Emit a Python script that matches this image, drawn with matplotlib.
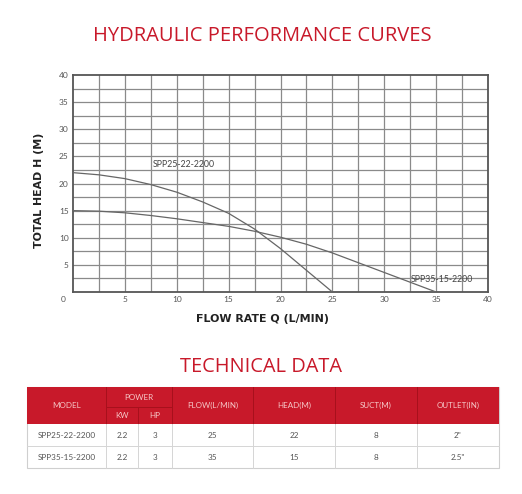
import matplotlib
matplotlib.use("Agg")
import matplotlib.pyplot as plt
from matplotlib.patches import Rectangle

# ---------------- data ----------------
q1 = [0, 2.5, 5, 7.5, 10, 12.5, 15, 17.5, 20, 22.5, 25]
h1 = [22.0, 21.6, 20.9, 19.8, 18.4, 16.6, 14.5, 11.6, 8.0, 4.0, 0.0]
q2 = [0, 2.5, 5, 7.5, 10, 12.5, 15, 17.5, 20, 22.5, 25, 27.5, 30, 32.5, 35]
h2 = [15.0, 14.9, 14.6, 14.1, 13.5, 12.8, 12.1, 11.2, 10.1, 8.8, 7.2, 5.4, 3.6, 1.8, 0.0]
curve_names = ["SPP25-22-2200", "SPP35-15-2200"]
x_ticks = [5, 10, 15, 20, 25, 30, 35, 40]
y_ticks = [5, 10, 15, 20, 25, 30, 35, 40]

header = ["MODEL", "POWER", "FLOW(L/MIN)", "HEAD(M)", "SUCT(M)", "OUTLET(IN)"]
sub_header = ["KW", "HP"]
models = ["SPP25-22-2200", "SPP35-15-2200"]
kw = ["2.2", "2.2"]
hp = ["3", "3"]
flow = ["25", "35"]
head = ["22", "15"]
suct = ["8", "8"]
outlet = ['2"', '2.5"']

W, H = 522, 494
RED = "#c8192a"
fig = plt.figure(figsize=(W / 100, H / 100), dpi=100)
fig.patch.set_facecolor("white")

# ---------------- chart ----------------
x0, x1, yb, yt = 73, 488, 292, 75
ax = fig.add_axes([x0 / W, 1 - yb / H, (x1 - x0) / W, (yb - yt) / H])
ax.set_xlim(0, 40)
ax.set_ylim(0, 40)
for v in [2.5 * i for i in range(1, 16)]:
    ax.axvline(v, color="#8a8a8a", lw=0.9, zorder=1)
    ax.axhline(v, color="#8a8a8a", lw=0.9, zorder=1)
for s in ax.spines.values():
    s.set_color("#555555")
    s.set_linewidth(1.3)
ax.plot(q1, h1, color="#666666", lw=0.9, zorder=3)
ax.plot(q2, h2, color="#666666", lw=0.9, zorder=3)
ax.text(7.7, 23.0, curve_names[0], fontsize=6.3, color="#444444", family="Lato", zorder=4)
ax.text(32.6, 1.8, curve_names[1], fontsize=6.3, color="#444444", family="Lato", zorder=4)

ax.set_xticks(x_ticks)
ax.set_yticks(y_ticks)
ax.tick_params(length=0, labelsize=6, labelcolor="#555555", pad=3)
for lbl in ax.get_xticklabels() + ax.get_yticklabels():
    lbl.set_family("Lato")
ax.text(-0.7, -1.3, "0", transform=ax.transData, fontsize=6, color="#555555",
        family="Lato", ha="right", va="center")

fig.text(39 / W, 1 - 190 / H, "TOTAL HEAD H (M)", rotation=90, ha="center", va="center",
         fontsize=7.9, fontweight="bold", color="#222222", family="DejaVu Sans")
fig.text(262 / W, 1 - 319 / H, "FLOW RATE Q (L/MIN)", ha="center", va="center",
         fontsize=7.9, fontweight="bold", color="#222222", family="DejaVu Sans")

fig.text(262 / W, 1 - 36 / H, "HYDRAULIC PERFORMANCE CURVES", ha="center", va="center",
         fontsize=14.5, color=RED, family="Open Sans")
fig.text(261 / W, 1 - 367 / H, "TECHNICAL DATA", ha="center", va="center",
         fontsize=14.4, color=RED, family="Open Sans")

# ---------------- table ----------------
ta = fig.add_axes([0, 0, 1, 1])
ta.set_xlim(0, W)
ta.set_ylim(H, 0)
ta.axis("off")
cols = [27, 106, 138, 172, 253, 335, 417, 499]
ytop, yhead, yr1, yr2 = 387, 424, 446, 468
ymid = 407
# shadow + body
ta.add_patch(Rectangle((cols[0] + 1, ytop + 1), cols[-1] - cols[0], yr2 - ytop,
                       facecolor="#e6e6e6", edgecolor="none", zorder=0))
ta.add_patch(Rectangle((cols[0], ytop), cols[-1] - cols[0], yr2 - ytop,
                       facecolor="white", edgecolor="#cfcfcf", lw=0.8, zorder=1))
ta.add_patch(Rectangle((cols[0], ytop), cols[-1] - cols[0], yhead - ytop,
                       facecolor=RED, edgecolor="none", zorder=2))
dark = "#a8101c"
for c in cols[1:-1]:
    ta.plot([c, c], [ytop if c != cols[2] else ymid, yhead], color=dark, lw=0.7, zorder=3)
    ta.plot([c, c], [yhead, yr2], color="#d5d5d5", lw=0.7, zorder=3)
ta.plot([cols[1], cols[3]], [ymid, ymid], color=dark, lw=0.7, zorder=3)
ta.plot([cols[0], cols[-1]], [yr1, yr1], color="#d5d5d5", lw=0.7, zorder=3)

hc = "#f6c8c8"
hs = dict(fontsize=5.8, color=hc, family="Lato", ha="center", va="center", zorder=4)
ta.text((cols[0] + cols[1]) / 2, (ytop + yhead) / 2, header[0], **hs)
ta.text((cols[1] + cols[3]) / 2, (ytop + ymid) / 2, header[1], **hs)
ta.text((cols[1] + cols[2]) / 2, (ymid + yhead) / 2, sub_header[0], **hs)
ta.text((cols[2] + cols[3]) / 2, (ymid + yhead) / 2, sub_header[1], **hs)
for i, name in enumerate(header[2:]):
    ta.text((cols[3 + i] + cols[4 + i]) / 2, (ytop + yhead) / 2, name, **hs)

bs = dict(fontsize=5.9, color="#555555", family="Lato", ha="center", va="center", zorder=4)
rows_y = [(yhead + yr1) / 2, (yr1 + yr2) / 2]
for r in range(2):
    vals = [models[r], kw[r], hp[r], flow[r], head[r], suct[r], outlet[r]]
    for c, v in enumerate(vals):
        ta.text((cols[c] + cols[c + 1]) / 2, rows_y[r], v, **bs)

fig.savefig("out.png", dpi=100)
